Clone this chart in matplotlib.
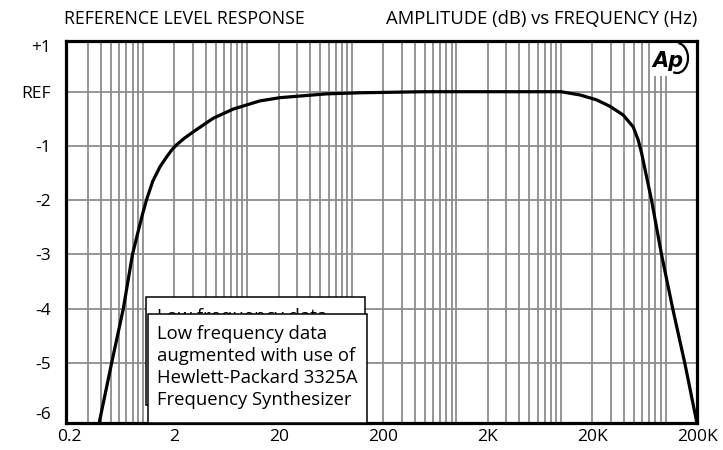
import matplotlib
matplotlib.use("Agg")
import matplotlib.pyplot as plt
from matplotlib.patches import Rectangle, Arc
from matplotlib.transforms import Affine2D

# response
freq_hz = [0.383, 0.506, 0.654, 0.80, 0.90, 1.0, 1.1, 1.25, 1.47, 1.7, 1.89,
           2.11, 2.5, 3.05, 4.73, 7.36, 13.2, 20.6, 57.4, 120, 500, 2000,
           10000, 15200, 21900, 29400, 39400, 49100, 54800, 59000, 65900,
           73500, 91700, 118000, 153000, 200000]
level_db = [-6.12, -5.0, -4.0, -3.0, -2.6, -2.25, -1.97, -1.65, -1.38, -1.2,
            -1.08, -0.98, -0.86, -0.74, -0.49, -0.32, -0.17, -0.11, -0.04,
            -0.02, 0.0, 0.0, 0.0, -0.06, -0.15, -0.27, -0.43, -0.65, -0.89,
            -1.13, -1.57, -2.0, -3.01, -4.03, -5.01, -6.12]

x_tick_vals = [0.2, 2, 20, 200, 2000, 20000, 200000]
x_tick_labels = ["0.2", "2", "20", "200", "2K", "20K", "200K"]
y_grid_vals = [0, -1, -2, -3, -4, -5]
y_tick_labels = ["+1", "REF", "-1", "-2", "-3", "-4", "-5", "-6"]
note_lines = ["Low frequency data", "augmented with use of",
              "Hewlett-Packard 3325A", "Frequency Synthesizer"]

W, H = 723, 450
plt.rcParams["font.family"] = ["Open Sans", "DejaVu Sans"]

fig = plt.figure(figsize=(W / 100, H / 100), dpi=100)

def fx(px):
    return px / W

def fy(py):
    return 1 - py / H

left, right, top, bottom = 66, 697, 40.7, 423.3
ax = fig.add_axes([fx(left), fy(bottom), fx(right) - fx(left), fy(top) - fy(bottom)])
ax.set_xscale("log")
ax.set_xlim(0.185, 2e5)
ax.set_ylim(-6.118, 0.941)

grid_col = "#8c8c8c"
# vertical grid on every 1..9 multiple (none at 0.2, the spine sits there)
xgrid = [k * 10 ** n for n in range(-1, 6) for k in range(1, 10)
         if 0.25 < k * 10 ** n < 1.5e5]
for xv in xgrid:
    ax.axvline(xv, color=grid_col, lw=1.3, zorder=1)
for yv in y_grid_vals:
    ax.axhline(yv, color=grid_col, lw=1.3, zorder=1)

ax.plot(freq_hz, level_db, color="black", lw=2.3, zorder=4,
        solid_joinstyle="round")

ax.set_xticks(x_tick_vals)
ax.set_xticklabels(x_tick_labels)
ax.xaxis.set_minor_locator(matplotlib.ticker.NullLocator())
# +1 and -6 labels sit a little inside the frame
ax.set_yticks([0.84] + y_grid_vals + [-5.93])
ax.set_yticklabels(y_tick_labels)
ax.tick_params(axis="both", length=0, labelsize=12.5, colors="black")
ax.tick_params(axis="y", pad=11)
ax.tick_params(axis="x", pad=4)

for sp in ax.spines.values():
    sp.set_linewidth(2.3)
    sp.set_color("black")
    sp.set_zorder(6)

# Ap logo
ax.add_patch(Rectangle((fx(650), fy(76)), fx(694) - fx(650), fy(42) - fy(76),
                       transform=fig.transFigure, facecolor="white",
                       edgecolor="none", zorder=2))
fig.text(fx(668), fy(61), "Ap", fontsize=15, fontweight="bold", style="italic",
         family="DejaVu Sans", ha="center", va="center", zorder=10)
pix = Affine2D().scale(1, -1).translate(0, H)
fig.add_artist(Arc((677, 58), 22, 30, theta1=-85, theta2=105, lw=1.6,
                   color="black", transform=pix, zorder=10))

# titles
fig.text(fx(64), fy(19), "REFERENCE LEVEL RESPONSE", fontsize=12.7,
         ha="left", va="center")
fig.text(fx(697), fy(19), "AMPLITUDE (dB) vs FREQUENCY (Hz)", fontsize=13.3,
         ha="right", va="center")

# stacked note boxes
fig.add_artist(Rectangle((fx(145.7), fy(405)), fx(365) - fx(145.7), fy(297.3) - fy(405),
                         transform=fig.transFigure, facecolor="white",
                         edgecolor="black", lw=1.1, zorder=5))
fig.text(fx(156.7), fy(322), note_lines[0], fontsize=13.3, ha="left",
         va="baseline", zorder=6)
fig.add_artist(Rectangle((fx(147.7), fy(423)), fx(366.7) - fx(147.7), fy(314.3) - fy(423),
                         transform=fig.transFigure, facecolor="white",
                         edgecolor="black", lw=1.1, zorder=7))
for i, line in enumerate(note_lines):
    fig.text(fx(156.7), fy(339 + 22 * i), line, fontsize=13.3, ha="left",
             va="baseline", zorder=8)

fig.savefig("out.png", dpi=100)
